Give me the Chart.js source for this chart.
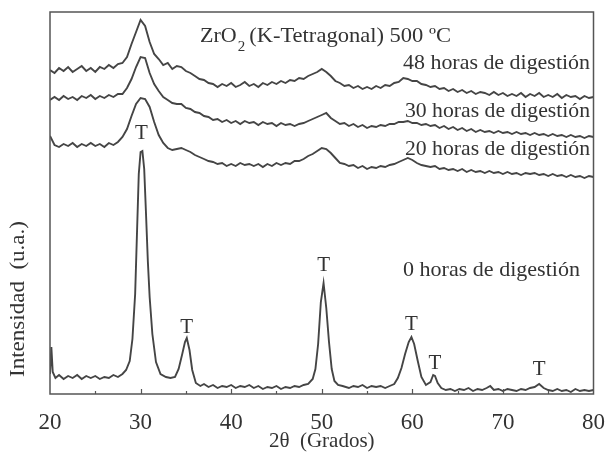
<!DOCTYPE html>
<html>
<head>
<meta charset="utf-8">
<script src="https://cdn.jsdelivr.net/npm/chart.js@4.4.0/dist/chart.umd.min.js"></script>
<style>
  html, body { margin: 0; padding: 0; background: #fff; }
  #wrap { width: 612px; height: 455px; }
</style>
</head>
<body>
<div id="wrap"><canvas id="xrdChart" width="612" height="455"></canvas></div>
<script>
// 2-theta grid (degrees) for the broad patterns
const angles = [
  20, 20.5, 21, 21.5, 22, 22.5, 23, 23.5, 24, 24.5,
  25, 25.5, 26, 26.5, 27, 27.5, 28, 28.5, 29, 29.5,
  30, 30.5, 31, 31.5, 32, 32.5, 33, 33.5, 34, 34.5,
  35, 35.5, 36, 36.5, 37, 37.5, 38, 38.5, 39, 39.5,
  40, 40.5, 41, 41.5, 42, 42.5, 43, 43.5, 44, 44.5,
  45, 45.5, 46, 46.5, 47, 47.5, 48, 48.5, 49, 49.5,
  50, 50.5, 51, 51.5, 52, 52.5, 53, 53.5, 54, 54.5,
  55, 55.5, 56, 56.5, 57, 57.5, 58, 58.5, 59, 59.5,
  60, 60.5, 61, 61.5, 62, 62.5, 63, 63.5, 64, 64.5,
  65, 65.5, 66, 66.5, 67, 67.5, 68, 68.5, 69, 69.5,
  70, 70.5, 71, 71.5, 72, 72.5, 73, 73.5, 74, 74.5,
  75, 75.5, 76, 76.5, 77, 77.5, 78, 78.5, 79, 79.5,
  80
];

// intensities (a.u., offset curves)
const h48 = [
  324, 321, 326, 323, 327, 322, 325, 328, 323, 326,
  322, 327, 325, 329, 326, 330, 331, 337, 350, 362,
  374, 368, 352, 340, 335, 329, 331, 325, 328, 327,
  323, 321, 318, 315, 314, 311, 310, 307, 310, 308,
  311, 307, 309, 312, 308, 310, 307, 311, 309, 312,
  310, 313, 311, 314, 313, 316, 315, 318, 320, 322,
  325, 322, 318, 313, 311, 308, 309, 306, 308, 305,
  307, 305, 308, 306, 309, 308, 311, 312, 316, 315,
  313, 313, 310, 309, 307, 308, 305, 306, 303, 305,
  302, 304, 301, 303, 300, 302, 301, 299, 302, 299,
  301, 298, 300, 298, 301, 297, 300, 298, 301, 297,
  299, 297, 300, 296, 299, 297, 298, 295, 298, 296,
  297
];

const h30 = [
  294, 297, 294, 298, 295, 297, 294, 298, 296, 299,
  295, 298, 296, 299, 297, 300, 300, 306, 315, 327,
  337, 336, 321, 310, 303, 297, 294, 291, 290, 290,
  286, 285, 282, 281, 278, 277, 274, 275, 272, 274,
  271, 273, 270, 273, 271, 272, 269, 272, 270, 271,
  268, 271, 269, 270, 268, 270, 271, 273, 275, 277,
  279, 281, 276, 273, 270, 271, 268, 270, 267, 269,
  266, 268, 267, 269, 268, 270, 270, 272, 272, 273,
  271, 271, 269, 270, 268, 269, 266, 268, 265, 267,
  264, 266, 263, 265, 262, 264, 262, 263, 261, 263,
  261, 262, 260, 262, 260, 261, 259, 261, 259, 260,
  258, 260, 258, 259, 257, 259, 257, 258, 256, 258,
  257
];

const h20 = [
  258, 249, 247, 250, 248, 251, 247, 250, 248, 251,
  248, 250, 247, 251, 249, 252, 257, 265, 278, 290,
  296, 295, 287, 272, 259, 251, 246, 244, 245, 246,
  244, 242, 239, 237, 235, 233, 232, 230, 231, 228,
  230, 228, 231, 229, 230, 228, 230, 227, 230, 228,
  231, 229, 231, 230, 233, 233, 235, 238, 240, 243,
  246, 245, 241, 236, 231, 230, 228, 229, 226, 228,
  225, 227, 226, 228, 227, 229, 230, 232, 234, 236,
  234, 231, 229, 228, 227, 228, 225, 226, 224, 225,
  223, 225, 222, 224, 222, 223, 221, 223, 221, 222,
  220, 222, 220, 221, 219, 221, 220, 221, 219, 220,
  218, 220, 218, 219, 217, 219, 217, 218, 216, 218,
  217
];

// 0 h pattern: sharp peaks, so [2theta, intensity] pairs
const h0 = [
  [20, 20], [20.15, 47], [20.3, 22], [20.6, 16], [21, 19], [21.5, 15], [22, 18], [22.5, 16],
  [23, 19], [23.5, 15], [24, 18], [24.5, 16], [25, 18], [25.5, 15], [26, 17], [26.5, 16],
  [27, 19], [27.5, 17], [28, 20], [28.4, 24], [28.8, 33], [29.1, 55], [29.4, 100], [29.6, 160],
  [29.8, 220], [30.0, 242], [30.2, 243], [30.4, 225], [30.6, 180], [30.8, 133], [31.0, 97],
  [31.3, 60], [31.7, 32], [32.2, 20], [32.8, 17], [33.3, 16], [33.8, 17], [34.2, 25],
  [34.6, 40], [34.9, 52], [35.1, 56], [35.4, 44], [35.7, 24], [36.1, 11], [36.6, 8],
  [37, 10], [37.5, 7], [38, 9], [38.5, 6], [39, 8], [39.5, 7], [40, 9], [40.5, 6], [41, 8],
  [41.5, 7], [42, 9], [42.5, 6], [43, 8], [43.5, 5], [44, 7], [44.5, 6], [45, 8], [45.5, 5],
  [46, 7], [46.5, 6], [47, 8], [47.5, 7], [48, 9], [48.5, 10], [49, 15], [49.3, 25],
  [49.6, 50], [49.9, 92], [50.2, 111], [50.5, 86], [50.8, 52], [51.1, 25], [51.4, 13],
  [51.8, 9], [52.3, 8], [53, 6], [53.5, 8], [54, 7], [54.5, 9], [55, 6], [55.5, 8], [56, 7],
  [56.5, 8], [57, 6], [57.5, 8], [58, 10], [58.4, 16], [58.8, 26], [59.2, 40], [59.6, 52],
  [59.9, 57], [60.2, 50], [60.6, 33], [61.0, 17], [61.5, 9], [62.0, 12], [62.3, 19],
  [62.5, 18], [62.8, 11], [63.2, 6], [63.7, 4], [64.2, 5], [64.7, 3], [65.2, 5], [65.7, 4],
  [66.2, 6], [66.7, 3], [67.2, 5], [67.7, 4], [68.2, 6], [68.6, 8], [69.0, 4], [69.5, 5],
  [70, 3], [70.5, 5], [71, 4], [71.5, 3], [72, 5], [72.5, 4], [73, 6], [73.5, 7], [74.0, 10],
  [74.5, 6], [75, 4], [75.5, 3], [76, 5], [76.5, 3], [77, 4], [77.5, 2], [78, 5], [78.5, 3],
  [79, 4], [79.5, 3], [80, 4]
];

const seriesNames = ['48 horas de digestión', '30 horas de digestión', '20 horas de digestión', '0 horas de digestión'];
const xTickValues = [20, 30, 40, 50, 60, 70, 80];
const xMinorTicks = [25, 35, 45, 55, 65, 75];

// "T" (tetragonal) reflections marked on the plot
const peakAngles = [30.1, 35.1, 50.2, 59.9, 62.5, 74.0];
const peakLabelHeights = [261, 67, 129, 70, 31, 25];

const ink = '#333';
const serif = '"Liberation Serif", "DejaVu Serif", serif';

function toPoints(xs, ys) {
  return xs.map((a, i) => ({ x: a, y: ys[i] }));
}

// draw text squeezed/stretched so it spans the given width
function fitText(ctx, text, x, y, width) {
  const w = ctx.measureText(text).width;
  ctx.save();
  ctx.translate(x, y);
  ctx.scale(width / w, 1);
  ctx.fillText(text, 0, 0);
  ctx.restore();
}

const framePlugin = {
  id: 'framePlugin',
  afterDraw(chart) {
    const ctx = chart.ctx;
    const a = chart.chartArea;
    const xs = chart.scales.x;
    const ys = chart.scales.y;
    ctx.save();
    // frame
    ctx.strokeStyle = '#555';
    ctx.lineWidth = 1.5;
    ctx.strokeRect(a.left, a.top, a.right - a.left, a.bottom - a.top);
    // inner ticks on the bottom axis
    ctx.lineWidth = 1.2;
    xTickValues.slice(1, -1).forEach(v => {
      const px = Math.round(xs.getPixelForValue(v)) + 0.5;
      ctx.beginPath(); ctx.moveTo(px, a.bottom); ctx.lineTo(px, a.bottom - 5); ctx.stroke();
    });
    xMinorTicks.forEach(v => {
      const px = Math.round(xs.getPixelForValue(v)) + 0.5;
      ctx.beginPath(); ctx.moveTo(px, a.bottom); ctx.lineTo(px, a.bottom - 3); ctx.stroke();
    });

    ctx.fillStyle = ink;
    ctx.textBaseline = 'alphabetic';
    ctx.textAlign = 'left';

    // heading with subscript
    ctx.font = '22px ' + serif;
    let x = 200;
    ctx.fillText('ZrO', x, 42);
    x += ctx.measureText('ZrO').width + 1;
    ctx.font = '15px ' + serif;
    ctx.fillText('2', x, 51);
    x += ctx.measureText('2').width + 4;
    ctx.font = '22px ' + serif;
    fitText(ctx, '(K-Tetragonal) 500 ºC', x, 42, 451 - x);

    // series labels
    ctx.font = '21px ' + serif;
    const labelPos = [[403, 69, 187], [405, 117, 185], [405, 155, 185], [403, 276, 177]];
    seriesNames.forEach((t, i) => fitText(ctx, t, labelPos[i][0], labelPos[i][1], labelPos[i][2]));

    // T markers
    ctx.textAlign = 'center';
    ctx.textBaseline = 'middle';
    ctx.font = '21px ' + serif;
    peakAngles.forEach((p, i) => {
      ctx.fillText('T', xs.getPixelForValue(p), ys.getPixelForValue(peakLabelHeights[i]));
    });

    // y axis title
    ctx.translate(18, 221);
    ctx.rotate(-Math.PI / 2);
    ctx.font = '21px ' + serif;
    fitText(ctx, 'Intensidad  (u.a.)', -78, 0, 156);
    ctx.restore();
  }
};

const lineStyle = {
  borderColor: '#454545',
  borderWidth: 1.9,
  pointRadius: 0,
  tension: 0,
  fill: false
};

new Chart(document.getElementById('xrdChart'), {
  type: 'line',
  data: {
    datasets: [
      Object.assign({ label: seriesNames[0], data: toPoints(angles, h48) }, lineStyle),
      Object.assign({ label: seriesNames[1], data: toPoints(angles, h30) }, lineStyle),
      Object.assign({ label: seriesNames[2], data: toPoints(angles, h20) }, lineStyle),
      Object.assign({ label: seriesNames[3], data: h0.map(p => ({ x: p[0], y: p[1] })) }, lineStyle)
    ]
  },
  options: {
    responsive: false,
    animation: false,
    devicePixelRatio: 1,
    layout: { padding: { left: 50, right: 15, top: 12, bottom: 0 } },
    plugins: { legend: { display: false }, tooltip: { enabled: false } },
    scales: {
      x: {
        type: 'linear',
        min: 20,
        max: 80,
        afterBuildTicks: s => { s.ticks = xTickValues.map(v => ({ value: v })); },
        afterFit: s => { s.height = 61; },
        grid: { display: false },
        border: { display: false },
        ticks: { color: ink, font: { family: serif, size: 23 }, padding: 7, maxRotation: 0 },
        title: {
          display: true,
          text: '2θ  (Grados)',
          color: ink,
          font: { family: serif, size: 21 },
          padding: { top: 0, bottom: 1 }
        }
      },
      y: { display: false, min: 0, max: 382 }
    }
  },
  plugins: [framePlugin]
});
</script>
</body>
</html>
